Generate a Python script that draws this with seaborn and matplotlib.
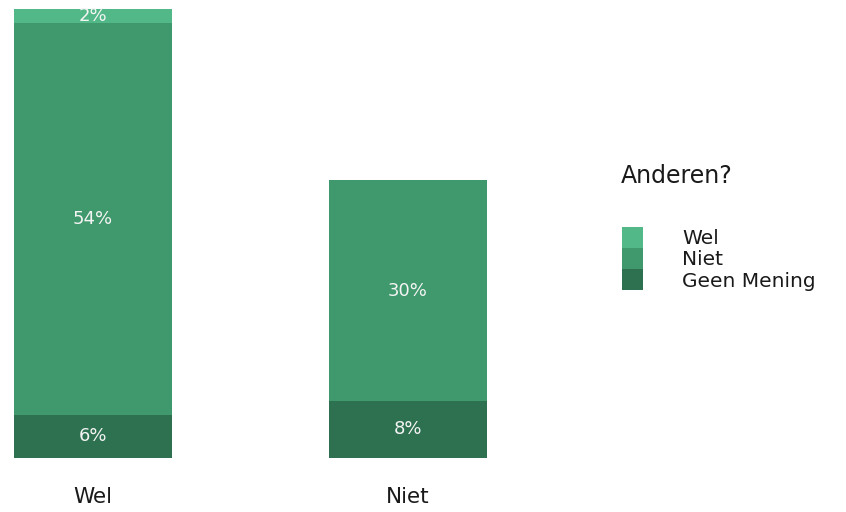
import matplotlib
matplotlib.use("Agg")
import matplotlib.pyplot as plt
from matplotlib.patches import Patch
import seaborn as sns
import pandas as pd
import numpy as np

categories = ["Wel", "Niet"]
series_names = ["Wel", "Niet", "Geen Mening"]
wel_values = [2.0, 0.0]
niet_values = [54.0, 30.45]
geen_values = [6.0, 7.9]
colors = ["#52b888", "#3f996c", "#2e7150"]
legend_title = "Anderen?"

sns.set_theme(style="white")
plt.rcParams["font.family"] = ["DejaVu Sans"]

df = pd.DataFrame({"cat": categories, "Wel": wel_values, "Niet": niet_values,
                   "Geen Mening": geen_values})
df["top"] = df["Wel"] + df["Niet"] + df["Geen Mening"]
df["mid"] = df["Niet"] + df["Geen Mening"]
df["low"] = df["Geen Mening"]

fig = plt.figure(figsize=(8.46, 5.12), dpi=100)
ax = fig.add_axes([14/846, 54/512, 472.5/846, 449/512])

for col, c in zip(["top", "mid", "low"], colors):
    sns.barplot(data=df, x="cat", y=col, color=c, width=0.5, ax=ax,
                saturation=1, linewidth=0, order=categories)

# labels
for i in range(len(categories)):
    g = geen_values[i]; n = niet_values[i]; w = wel_values[i]
    segs = [(g, g/2), (n, g + n/2), (w, g + n + w/2)]
    for v, yc in segs:
        if v > 0:
            ax.text(i, yc, f"{round(v):.0f}%", ha="center", va="center",
                    color="#f4f4f4", fontsize=13)

ax.set_xlim(-0.25, 1.25)
ax.set_ylim(0, 62)
ax.set_xlabel("")
ax.set_ylabel("")
ax.set_yticks([])
ax.tick_params(axis="x", length=0, pad=21, labelsize=15.5, labelcolor="#1a1a1a")
sns.despine(ax=ax, left=True, bottom=True)

fig.text(621/846, 1 - 176/512, legend_title, fontsize=17, va="center", ha="left",
         color="#1a1a1a")
handles = [Patch(facecolor=c, edgecolor="none") for c in colors]
leg = fig.legend(handles, series_names, loc="upper left",
                 bbox_to_anchor=(622/846, 1 - 227/512), frameon=False,
                 labelspacing=0.0, handlelength=1.05, handleheight=1.22,
                 handletextpad=1.95, fontsize=14.5, borderpad=0.0,
                 borderaxespad=0.0)
for t in leg.get_texts():
    t.set_color("#1a1a1a")

fig.savefig("out.png", dpi=100)
